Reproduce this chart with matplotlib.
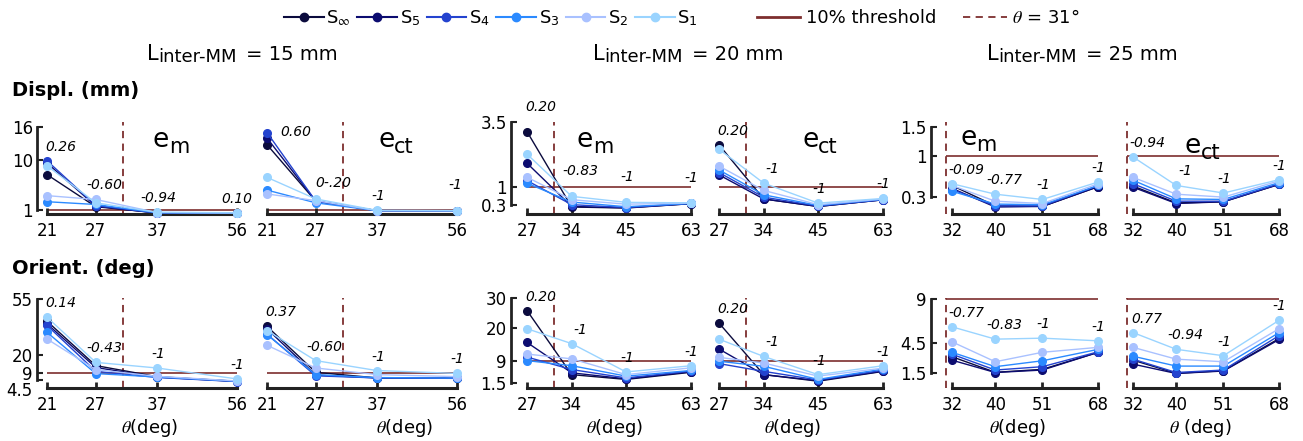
import numpy as np
import matplotlib
matplotlib.use('Agg')
import matplotlib.pyplot as plt
from matplotlib.lines import Line2D
from matplotlib.transforms import ScaledTranslation

plt.rcParams['font.family'] = ['DejaVu Sans']
plt.rcParams['mathtext.fontset'] = 'stix'

W, H = 1303, 441

SERIES = [r'S$_{\infty}$', r'S$_\mathregular{5}$', r'S$_\mathregular{4}$',
          r'S$_\mathregular{3}$', r'S$_\mathregular{2}$', r'S$_\mathregular{1}$']
COLORS = ['#0b0b3d', '#0c0c70', '#2443cf', '#2b8aff', '#a9c1ff', '#9ad4ff']
THR_COLOR = '#7d2e2e'

GROUPS = ['15', '20', '25']
THETA_15 = [21, 27, 37, 56]
THETA_20 = [27, 34, 45, 63]
THETA_25 = [32, 40, 51, 68]
THETA_CUT = 31
DISP_THRESHOLD = 1
ORIENT_THRESHOLD = 9

# each block: rows S_inf, S5, S4, S3, S2, S1 ; columns follow the theta list
DISP_EM_15 = [[7.4, 1.6, 0.50, 0.45], [9.5, 1.7, 0.45, 0.42], [9.9, 1.8, 0.48, 0.43],
              [2.5, 2.0, 0.50, 0.45], [3.6, 2.9, 0.55, 0.48], [9.0, 2.3, 0.60, 0.50]]
DISP_ECT_15 = [[12.8, 2.6, 0.90, 0.85], [14.0, 2.6, 0.90, 0.85], [15.0, 2.6, 0.88, 0.85],
               [4.6, 2.3, 0.88, 0.85], [3.9, 2.7, 0.90, 0.88], [6.9, 3.0, 0.95, 0.90]]
DISP_EM_20 = [[3.13, 0.22, 0.18, 0.35], [1.91, 0.24, 0.19, 0.35], [1.24, 0.31, 0.20, 0.36],
              [1.14, 0.41, 0.23, 0.36], [1.37, 0.50, 0.33, 0.37], [2.26, 0.63, 0.40, 0.38]]
DISP_ECT_20 = [[2.62, 0.53, 0.24, 0.50], [1.46, 0.53, 0.24, 0.50], [1.55, 0.60, 0.26, 0.50],
               [1.65, 0.69, 0.28, 0.52], [1.80, 0.86, 0.31, 0.53], [2.45, 1.14, 0.37, 0.55]]
DISP_EM_25 = [[0.50, 0.15, 0.14, 0.48], [0.45, 0.13, 0.14, 0.48], [0.43, 0.15, 0.15, 0.50],
              [0.40, 0.18, 0.17, 0.50], [0.50, 0.23, 0.19, 0.53], [0.53, 0.35, 0.26, 0.56]]
DISP_ECT_25 = [[0.49, 0.20, 0.22, 0.52], [0.47, 0.19, 0.22, 0.52], [0.53, 0.23, 0.23, 0.53],
               [0.59, 0.27, 0.26, 0.55], [0.64, 0.35, 0.30, 0.58], [0.99, 0.50, 0.37, 0.60]]

ORIENT_EM_15 = [[41.1, 13.4, 6.5, 3.6], [39.5, 12.2, 6.2, 3.5], [38.5, 9.8, 6.0, 3.4],
                [34.2, 8.4, 6.3, 3.6], [30.0, 10.9, 6.7, 3.8], [43.6, 15.4, 11.9, 5.05]]
ORIENT_ECT_15 = [[37.9, 9.2, 5.7, 5.5], [36.3, 7.5, 5.7, 5.5], [33.0, 7.0, 5.7, 5.4],
                 [32.8, 7.7, 5.9, 5.6], [26.1, 11.9, 7.75, 6.5], [35.3, 16.5, 10.3, 8.5]]
ORIENT_EM_20 = [[25.8, 4.3, 2.7, 5.1], [15.1, 4.9, 2.9, 5.3], [10.2, 6.0, 3.2, 5.5],
                [9.0, 7.3, 3.8, 5.7], [11.2, 9.6, 4.3, 6.6], [19.7, 14.7, 5.2, 7.3]]
ORIENT_ECT_20 = [[21.6, 4.3, 2.1, 5.4], [12.9, 4.3, 2.3, 5.5], [8.0, 5.4, 2.5, 5.8],
                 [8.8, 7.1, 2.7, 6.2], [10.1, 8.2, 3.8, 6.5], [16.2, 10.4, 4.3, 7.3]]
ORIENT_EM_25 = [[3.15, 1.57, 1.87, 3.6], [2.8, 1.55, 1.8, 3.6], [3.4, 1.8, 2.14, 3.65],
                [3.6, 2.14, 2.74, 3.9], [4.66, 2.64, 3.6, 4.1], [6.18, 4.93, 5.03, 4.76]]
ORIENT_ECT_25 = [[2.8, 1.47, 1.73, 5.0], [2.4, 1.45, 1.7, 4.9], [2.9, 1.55, 1.8, 5.3],
                 [3.2, 2.2, 2.2, 5.6], [4.1, 2.9, 2.64, 6.0], [5.6, 3.9, 3.25, 6.85]]

# correlation labels written above each theta
DISP_EM_15_R = ['0.26', '-0.60', '-0.94', '0.10']
DISP_ECT_15_R = ['0.60', '0-.20', '-1', '-1']
DISP_EM_20_R = ['0.20', '-0.83', '-1', '-1']
DISP_ECT_20_R = ['0.20', '-1', '-1', '-1']
DISP_EM_25_R = ['-0.09', '-0.77', '-1', '-1']
DISP_ECT_25_R = ['-0.94', '-1', '-1', '-1']
ORIENT_EM_15_R = ['0.14', '-0.43', '-1', '-1']
ORIENT_ECT_15_R = ['0.37', '-0.60', '-1', '-1']
ORIENT_EM_20_R = ['0.20', '-1', '-1', '-1']
ORIENT_ECT_20_R = ['0.20', '-1', '-1', '-1']
ORIENT_EM_25_R = ['-0.77', '-0.83', '-1', '-1']
ORIENT_ECT_25_R = ['0.77', '-0.94', '-1', '-1']

DISP_YTICKS = [[1, 10, 16], [0.3, 1, 3.5], [0.3, 1, 1.5]]
ORIENT_YTICKS = [[4.5, 9, 20, 55], [1.5, 9, 20, 30], [1.5, 4.5, 9]]

# ---- layout (pixels of the 1303x441 image) ----
K = 194.0                                   # px per ln(theta)
SPINE_PX = [37, 511, 931]
FIRST_PX = [[47, 267], [527, 719], [952, 1133]]
PAD_R = 6
ROW_PX = [(122, 214), (298, 388)]
YLIMS = [[(0.28, 16.9), (-0.05, 3.5), (0.01, 1.59)],
         [(-0.6, 55.6), (-0.18, 30.0), (-0.02, 9.1)]]
XLABEL_PX = [[150, 405], [615, 793], [1018, 1200]]
E_LABEL_PX = [[(153, 147), (378, 147)], [(577, 147), (802, 147)], [(960, 145), (1185, 153)]]
TITLE_PX = [147, 593, 987]
DX = [14, 9, 1, 0]
# a few labels sit away from the default spot (row, group, col, index) -> (dx, dy) px
LABEL_NUDGE = {(0, 0, 1, 0): (29, 1), (0, 0, 1, 1): (18, 16), (0, 0, 1, 3): (-2, 26)}

thetas = [THETA_15, THETA_20, THETA_25]
data = [[[DISP_EM_15, DISP_ECT_15], [DISP_EM_20, DISP_ECT_20], [DISP_EM_25, DISP_ECT_25]],
        [[ORIENT_EM_15, ORIENT_ECT_15], [ORIENT_EM_20, ORIENT_ECT_20], [ORIENT_EM_25, ORIENT_ECT_25]]]
rlabels = [[[DISP_EM_15_R, DISP_ECT_15_R], [DISP_EM_20_R, DISP_ECT_20_R], [DISP_EM_25_R, DISP_ECT_25_R]],
           [[ORIENT_EM_15_R, ORIENT_ECT_15_R], [ORIENT_EM_20_R, ORIENT_ECT_20_R],
            [ORIENT_EM_25_R, ORIENT_ECT_25_R]]]
thresholds = [DISP_THRESHOLD, ORIENT_THRESHOLD]
yticks = [DISP_YTICKS, ORIENT_YTICKS]

fig = plt.figure(figsize=(W / 100, H / 100), dpi=100)


def fx(px):
    return px / W


def fy(py):
    return 1 - py / H


def chain_text(x, y, parts):
    # pieces placed one after another so the subscript can stay almost full size
    r = fig.canvas.get_renderer()
    for s, size, drop, gap in parts:
        t = fig.text(fx(x + gap), fy(y + drop), s, fontsize=size, va='baseline', ha='left')
        x = t.get_window_extent(r).x1


for g in range(3):
    th = thetas[g]
    for c in range(2):
        first = FIRST_PX[g][c]
        pad_l = first - SPINE_PX[g]
        left = first - pad_l
        right = first + np.log(th[-1] / th[0]) * K + PAD_R
        xlim = (th[0] * np.exp(-pad_l / K), th[-1] * np.exp(PAD_R / K))
        for r in range(2):
            top, bottom = ROW_PX[r]
            ax = fig.add_axes([fx(left), fy(bottom), (right - left) / W, (bottom - top) / H])
            ax.set_xscale('log')
            ax.set_xlim(*xlim)
            ax.set_ylim(*YLIMS[r][g])
            ax.patch.set_visible(False)

            vals = np.array(data[r][g][c])
            ax.hlines(thresholds[r], min(th[0], THETA_CUT), th[-1], color=THR_COLOR, lw=1.2, zorder=1)
            ax.axvline(THETA_CUT, color=THR_COLOR, lw=1.3, ls=(0, (4, 3)), zorder=1)
            for k in range(len(SERIES)):
                ax.plot(th, vals[k], '-o', color=COLORS[k], lw=1.0, ms=5.5, clip_on=False, zorder=3 + k)

            dy_base = 25 if (r == 0 and g == 1 and c == 0) else 14
            top_vals = vals.max(axis=0)
            for i, lab in enumerate(rlabels[r][g][c]):
                off = LABEL_NUDGE.get((r, g, c, i), (DX[i], dy_base))
                ax.annotate(lab, (th[i], top_vals[i]), xytext=off, textcoords='offset pixels',
                            ha='center', va='center', fontsize=10, style='italic', zorder=10)

            for s in ['top', 'right']:
                ax.spines[s].set_visible(False)
            ax.spines['bottom'].set_bounds(th[0], th[-1])
            ax.spines['bottom'].set_linewidth(2.2)
            ax.spines['bottom'].set_color('#222222')
            ax.set_xticks(th)
            ax.set_xticklabels([str(t) for t in th])
            ax.xaxis.set_minor_locator(matplotlib.ticker.NullLocator())
            ax.tick_params(axis='x', direction='in', length=4, width=2, pad=6, labelsize=12, color='#222222')

            yt = yticks[r][g]
            if c == 0:
                ax.spines['left'].set_bounds(min(yt), max(yt))
                ax.spines['left'].set_linewidth(2)
                ax.spines['left'].set_color('#222222')
                ax.set_yticks(yt)
                ax.set_yticklabels([f'{v:g}' for v in yt])
                ax.tick_params(axis='y', direction='in', length=4, width=1.5, pad=3, labelsize=12,
                               color='#222222')
                if r == 1 and g == 0:
                    # bottom label pushed down so it clears the "9"
                    lab0 = ax.get_yticklabels()[0]
                    lab0.set_verticalalignment('top')
                    lab0.set_transform(lab0.get_transform()
                                       + ScaledTranslation(0, -1.5 / 72, fig.dpi_scale_trans))
            else:
                ax.spines['left'].set_visible(False)
                ax.set_yticks([])

            if r == 1:
                txt = r'$\theta$ (deg)' if (g == 2 and c == 1) else r'$\theta$(deg)'
                ax.set_xlabel(txt, fontsize=13)
                ax.xaxis.set_label_coords((XLABEL_PX[g][c] - left) / (right - left),
                                          -(428 - bottom) / (bottom - top))
                ax.xaxis.label.set_verticalalignment('center')

# group titles and error labels
for g in range(3):
    chain_text(TITLE_PX[g], 60, [('L', 15, 0, 0), ('inter-MM', 13, 2, 0),
                                 (f'= {GROUPS[g]} mm', 14, 0, 9)])
    for c, sub in enumerate(['m', 'ct']):
        x, y = E_LABEL_PX[g][c]
        chain_text(x, y, [('e', 19, 0, 0), (sub, 15, 6, 0)])

fig.text(fx(12), fy(90), 'Displ. (mm)', fontsize=14, fontweight='bold', va='center', ha='left')
fig.text(fx(12), fy(268), 'Orient. (deg)', fontsize=14, fontweight='bold', va='center', ha='left')

handles = [Line2D([], [], color=col, lw=1.5, marker='o', ms=6) for col in COLORS]
fig.legend(handles, SERIES, loc='center left', bbox_to_anchor=(fx(284), fy(18)), ncol=6,
           frameon=False, fontsize=13, handlelength=2.2, handletextpad=0.15, columnspacing=0.35,
           borderpad=0, borderaxespad=0)
thr_handles = [Line2D([], [], color=THR_COLOR, lw=2),
               Line2D([], [], color=THR_COLOR, lw=1.3, ls=(0, (4, 3)))]
fig.legend(thr_handles, ['10% threshold', r'$\theta$ = 31°'], loc='center left',
           bbox_to_anchor=(fx(757), fy(18)), ncol=2, frameon=False, fontsize=13,
           handlelength=2.4, handletextpad=0.3, columnspacing=1.5, borderpad=0, borderaxespad=0)

fig.savefig('out.png', dpi=100)
